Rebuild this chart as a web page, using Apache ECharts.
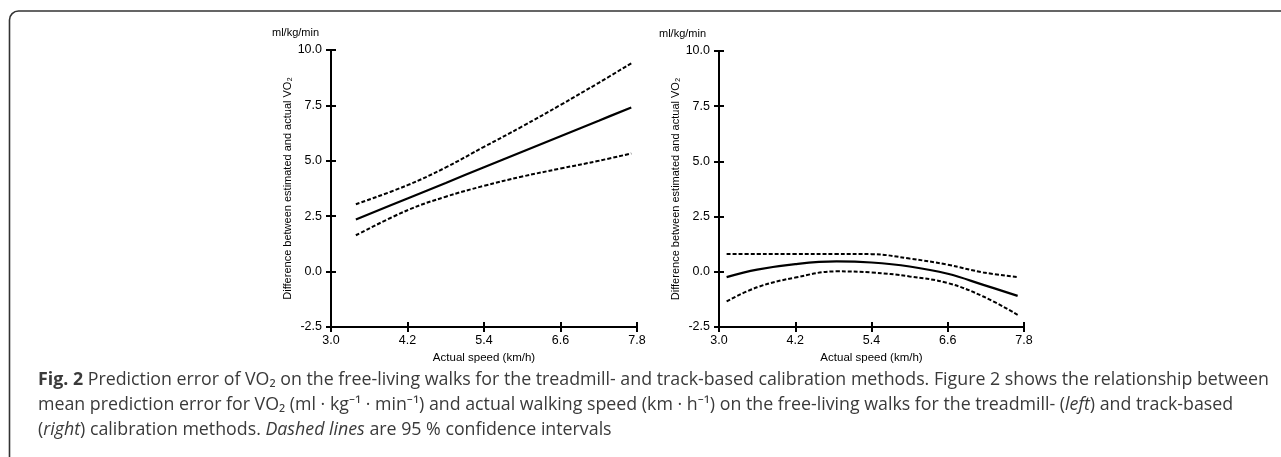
<!DOCTYPE html>
<html>
<head>
<meta charset="utf-8">
<script src="https://cdn.jsdelivr.net/npm/echarts@6/dist/echarts.min.js"></script>
<style>
  html, body { margin: 0; padding: 0; background: #fff; }
  #chart { width: 1281px; height: 457px; }
</style>
</head>
<body>
<div id="chart"></div>
<script>
// treadmill-based calibration (left panel)
var leftSpeed = [3.39, 4.2, 4.8, 5.4, 6.0, 6.6, 7.2, 7.71]
var leftMean = [2.35, 3.30, 4.00, 4.71, 5.41, 6.11, 6.81, 7.41]
var leftUpper = [3.04, 3.90, 4.70, 5.63, 6.55, 7.52, 8.52, 9.40]
var leftLower = [1.64, 2.77, 3.38, 3.87, 4.29, 4.65, 5.00, 5.33]

// track-based calibration (right panel)
var rightSpeed = [3.12, 3.6, 4.2, 4.85, 5.4, 6.0, 6.6, 7.16, 7.7]
var rightMean = [-0.24, 0.10, 0.35, 0.47, 0.42, 0.24, -0.09, -0.59, -1.09]
var rightUpper = [0.81, 0.81, 0.81, 0.81, 0.80, 0.60, 0.32, -0.03, -0.24]
var rightLower = [-1.34, -0.70, -0.26, 0.02, -0.03, -0.21, -0.51, -1.12, -1.95]

var yTicks = ['-2.5', '0.0', '2.5', '5.0', '7.5', '10.0']
var xTicks = ['3.0', '4.2', '5.4', '6.6', '7.8']

var yTitle = 'Difference between estimated and actual VO₂'
var xTitle = 'Actual speed (km/h)'
var unitLabel = 'ml/kg/min'

var sans = '"Liberation Sans", Arial, sans-serif'
var capFont = '"Open Sans", "Noto Sans", sans-serif'

function pairs(xs, ys) {
  return xs.map(function (x, i) { return [x, ys[i]] })
}

function xAxes(grid) {
  var base = {
    type: 'value', gridIndex: grid, position: 'bottom',
    min: 3.0, max: 7.8, interval: 1.2,
    splitLine: { show: false }
  }
  return [
    Object.assign({}, base, {
      name: xTitle, nameLocation: 'middle', nameGap: 22,
      nameTextStyle: { fontFamily: sans, fontSize: 11.5, color: '#000' },
      axisLine: { onZero: false, lineStyle: { color: '#000', width: 2 } },
      axisTick: { length: 5, lineStyle: { color: '#000', width: 2 } },
      axisLabel: {
        fontFamily: sans, fontSize: 12.5, color: '#000', margin: 7,
        formatter: function (v) { return xTicks[Math.round((v - 3) / 1.2)] }
      }
    }),
    Object.assign({}, base, {
      axisLine: { show: false, onZero: false },
      axisTick: { inside: true, length: 5, lineStyle: { color: '#000', width: 2 } },
      axisLabel: { show: false }
    })
  ]
}

function yAxes(grid) {
  var base = {
    type: 'value', gridIndex: grid, position: 'left',
    min: -2.5, max: 10, interval: 2.5,
    splitLine: { show: false }
  }
  return [
    Object.assign({}, base, {
      name: yTitle, nameLocation: 'middle', nameGap: 28, nameRotate: 90,
      nameTextStyle: { fontFamily: sans, fontSize: 11, color: '#000' },
      axisLine: { onZero: false, lineStyle: { color: '#000', width: 2 } },
      axisTick: { length: 5, lineStyle: { color: '#000', width: 2 } },
      axisLabel: {
        fontFamily: sans, fontSize: 12.5, color: '#000', margin: 9,
        formatter: function (v) { return yTicks[Math.round((v + 2.5) / 2.5)] }
      }
    }),
    Object.assign({}, base, {
      axisLine: { show: false, onZero: false },
      axisTick: { inside: true, length: 5, lineStyle: { color: '#000', width: 2 } },
      axisLabel: { show: false }
    })
  ]
}

function curve(name, axisIdx, data, dashed) {
  return {
    name: name, type: 'line', xAxisIndex: axisIdx, yAxisIndex: axisIdx,
    data: data, smooth: 0.4, showSymbol: false, silent: true,
    lineStyle: { color: '#000', width: dashed ? 2 : 2.2, type: dashed ? [4, 2] : 'solid' }
  }
}

var caption = [
  '{b|Fig. 2} Prediction error of VO₂ on the free-living walks for the treadmill- and track-based calibration methods. Figure 2 shows the relationship between',
  'mean prediction error for VO₂ (ml · kg⁻¹ · min⁻¹) and actual walking speed (km · h⁻¹) on the free-living walks for the treadmill- ({i|left}) and track-based',
  '({i|right}) calibration methods. {i|Dashed lines} are 95 % confidence intervals'
].join('\n')

var chart = echarts.init(document.getElementById('chart'))
chart.setOption({
  backgroundColor: '#fff',
  animation: false,
  grid: [
    { left: 331, width: 306, top: 50, height: 277 },
    { left: 719, width: 305, top: 51, height: 276 }
  ],
  xAxis: xAxes(0).concat(xAxes(1)),
  yAxis: yAxes(0).concat(yAxes(1)),
  series: [
    curve('left mean', 0, pairs(leftSpeed, leftMean), false),
    curve('left upper', 0, pairs(leftSpeed, leftUpper), true),
    curve('left lower', 0, pairs(leftSpeed, leftLower), true),
    curve('right mean', 2, pairs(rightSpeed, rightMean), false),
    curve('right upper', 2, pairs(rightSpeed, rightUpper), true),
    curve('right lower', 2, pairs(rightSpeed, rightLower), true)
  ],
  graphic: [
    {
      type: 'rect', silent: true,
      shape: { x: 9.5, y: 11, width: 1320, height: 520, r: 9 },
      style: { fill: 'none', stroke: '#333', lineWidth: 1.6 }
    },
    {
      type: 'text', left: 272, top: 27,
      style: { text: unitLabel, font: '11px ' + sans, fill: '#000' }
    },
    {
      type: 'text', left: 659, top: 28,
      style: { text: unitLabel, font: '11px ' + sans, fill: '#000' }
    },
    {
      type: 'text', left: 38, top: 367,
      style: {
        text: caption,
        font: '17.8px ' + capFont,
        fill: '#3a3a3a',
        lineHeight: 25,
        rich: {
          b: { fontWeight: 'bold', fontSize: 17.8, fontFamily: capFont, fill: '#3a3a3a', lineHeight: 25 },
          i: { fontStyle: 'italic', fontSize: 17.8, fontFamily: capFont, fill: '#3a3a3a', lineHeight: 25 }
        }
      }
    }
  ]
})
</script>
</body>
</html>
